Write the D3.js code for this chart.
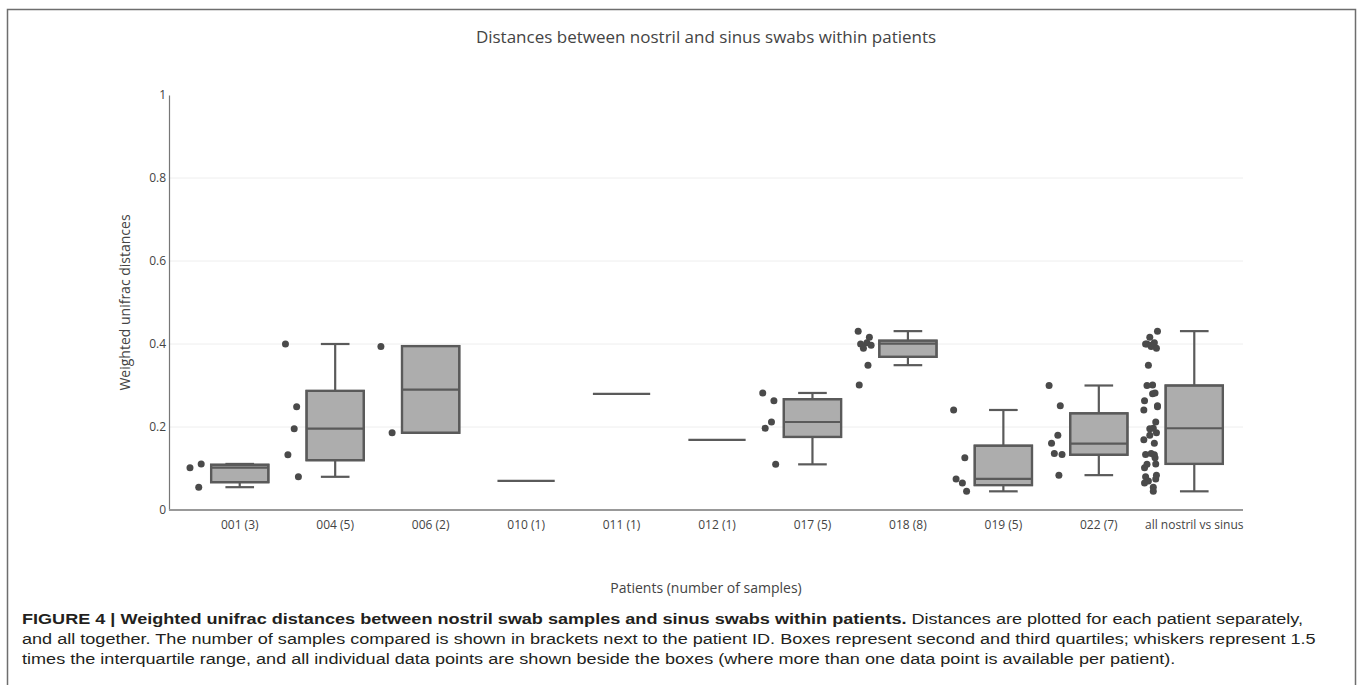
<!DOCTYPE html>
<html>
<head>
<meta charset="utf-8">
<script src="https://cdn.jsdelivr.net/npm/d3@7"></script>
<style>
  body { margin: 0; background: #fff; }
  svg { display: block; }
</style>
</head>
<body>
<svg width="1360" height="685"></svg>
<script>
// --- data ---
const categories = ["001 (3)", "004 (5)", "006 (2)", "010 (1)", "011 (1)", "012 (1)",
                    "017 (5)", "018 (8)", "019 (5)", "022 (7)", "all nostril vs sinus"];

const p001 = [0.102, 0.111, 0.055];
const p004 = [0.400, 0.249, 0.196, 0.133, 0.080];
const p006 = [0.394, 0.186];
const p010 = [0.070];
const p011 = [0.280];
const p012 = [0.169];
const p017 = [0.282, 0.263, 0.212, 0.197, 0.110];
const p018 = [0.431, 0.416, 0.403, 0.400, 0.397, 0.390, 0.349, 0.301];
const p019 = [0.241, 0.126, 0.065, 0.075, 0.045];
const p022 = [0.300, 0.251, 0.180, 0.161, 0.134, 0.136, 0.084];
const pAll = [].concat(p001, p004, p006, p010, p011, p012, p017, p018, p019, p022);

const groupPoints = [p001, p004, p006, p010, p011, p012, p017, p018, p019, p022, pAll];

// box statistics as drawn (q1, median, q3, whisker ends)
const q1      = [0.067, 0.120, 0.186, 0.070, 0.280, 0.169, 0.176, 0.369, 0.060, 0.133, 0.111];
const median  = [0.102, 0.196, 0.290, 0.070, 0.280, 0.169, 0.212, 0.401, 0.075, 0.160, 0.197];
const q3      = [0.109, 0.287, 0.395, 0.070, 0.280, 0.169, 0.267, 0.408, 0.155, 0.233, 0.300];
const whiskLo = [0.055, 0.080, 0.186, 0.070, 0.280, 0.169, 0.110, 0.349, 0.045, 0.084, 0.045];
const whiskHi = [0.111, 0.400, 0.395, 0.070, 0.280, 0.169, 0.282, 0.431, 0.241, 0.300, 0.431];

const yTicks      = [0, 0.2, 0.4, 0.6, 0.8, 1];
const yTickLabels = ["0", "0.2", "0.4", "0.6", "0.8", "1"];

const titleText  = "Distances between nostril and sinus swabs within patients";
const yTitleText = "Weighted unifrac distances";
const xTitleText = "Patients (number of samples)";

const captionBold = "FIGURE 4 | Weighted unifrac distances between nostril swab samples and sinus swabs within patients.";
const captionLines = [
  " Distances are plotted for each patient separately,",
  "and all together. The number of samples compared is shown in brackets next to the patient ID. Boxes represent second and third quartiles; whiskers represent 1.5",
  "times the interquartile range, and all individual data points are shown beside the boxes (where more than one data point is available per patient)."
];

// --- layout ---
const svg = d3.select("svg");
const axisLeft = 169, axisRight = 1243;
const plotTop = 95, plotBottom = 510;
const lineColor = "#5a5a5a";
const fillColor = "#adadad";
const dotColor  = "#4a4a4a";
const font = "'Open Sans', sans-serif";

const x = d3.scaleBand().domain(categories).range([192, 1242]).padding(0);
const y = d3.scaleLinear().domain([0, 1]).range([plotBottom, plotTop]);

const bw = x.bandwidth();
const boxW = bw * 0.6;
const ptOffset = -bw * 0.455;
const jitterW = 7;
const JITTER = [-0.9, 0.7, 0.35, -0.55, 0.95, -0.15, 0.5, -0.75, 0.05, 0.8, -0.35, 0.25, -1.0, 0.6];

// frame
svg.append("path")
  .attr("d", "M7.5,685 V9.5 H1355.5 V685")
  .attr("fill", "none")
  .attr("stroke", "#6e6e6e")
  .attr("stroke-width", 1.5);

// title
svg.append("text")
  .attr("x", (axisLeft + axisRight) / 2)
  .attr("y", 43)
  .attr("text-anchor", "middle")
  .attr("font-family", font)
  .attr("font-size", 17)
  .attr("fill", "#444")
  .text(titleText);

// gridlines
svg.append("g")
  .selectAll("line")
  .data(yTicks.filter(t => t > 0 && t < 1))
  .join("line")
  .attr("x1", axisLeft).attr("x2", axisRight)
  .attr("y1", d => y(d)).attr("y2", d => y(d))
  .attr("stroke", "#eeeeee")
  .attr("stroke-width", 1);

// y axis
const yAxis = d3.axisLeft(y)
  .tickValues(yTicks)
  .tickFormat((d, i) => yTickLabels[i])
  .tickSize(0)
  .tickPadding(3);

const gy = svg.append("g")
  .attr("transform", `translate(${axisLeft},0)`)
  .call(yAxis);
gy.select(".domain").attr("stroke", "#777").attr("stroke-width", 1.2);
gy.selectAll("text")
  .attr("font-family", font)
  .attr("font-size", 12)
  .attr("fill", "#444");

// x axis
const xAxis = d3.axisBottom(x).tickSize(0).tickPadding(10);
const gx = svg.append("g")
  .attr("transform", `translate(0,${plotBottom})`)
  .call(xAxis);
gx.select(".domain")
  .attr("d", `M${axisLeft},0H${axisRight}`)
  .attr("stroke", "#999")
  .attr("stroke-width", 2);
gx.selectAll("text")
  .attr("font-family", font)
  .attr("font-size", 12)
  .attr("fill", "#444");

// axis titles
svg.append("text")
  .attr("transform", `translate(130,${(plotTop + plotBottom) / 2}) rotate(-90)`)
  .attr("text-anchor", "middle")
  .attr("font-family", font)
  .attr("font-size", 14)
  .attr("fill", "#444")
  .text(yTitleText);

svg.append("text")
  .attr("x", (axisLeft + axisRight) / 2)
  .attr("y", 593)
  .attr("text-anchor", "middle")
  .attr("font-family", font)
  .attr("font-size", 14)
  .attr("fill", "#444")
  .text(xTitleText);

// boxes
const boxes = svg.append("g")
  .selectAll("g")
  .data(categories.map((c, i) => ({ c, i })))
  .join("g")
  .attr("transform", d => `translate(${x(d.c) + bw / 2},0)`);

boxes.each(function (d) {
  const g = d3.select(this);
  const i = d.i;
  const cap = boxW / 2;
  if (whiskHi[i] > q3[i]) {
    g.append("line").attr("x1", 0).attr("x2", 0)
      .attr("y1", y(q3[i])).attr("y2", y(whiskHi[i]));
    g.append("line").attr("x1", -cap / 2).attr("x2", cap / 2)
      .attr("y1", y(whiskHi[i])).attr("y2", y(whiskHi[i]));
  }
  if (whiskLo[i] < q1[i]) {
    g.append("line").attr("x1", 0).attr("x2", 0)
      .attr("y1", y(q1[i])).attr("y2", y(whiskLo[i]));
    g.append("line").attr("x1", -cap / 2).attr("x2", cap / 2)
      .attr("y1", y(whiskLo[i])).attr("y2", y(whiskLo[i]));
  }
  if (q3[i] > q1[i]) {
    g.append("rect")
      .attr("x", -boxW / 2).attr("width", boxW)
      .attr("y", y(q3[i])).attr("height", y(q1[i]) - y(q3[i]))
      .attr("fill", fillColor);
  }
  g.append("line").attr("x1", -boxW / 2).attr("x2", boxW / 2)
    .attr("y1", y(median[i])).attr("y2", y(median[i]));
  if (q3[i] > q1[i]) {
    g.append("rect")
      .attr("x", -boxW / 2).attr("width", boxW)
      .attr("y", y(q3[i])).attr("height", y(q1[i]) - y(q3[i]))
      .attr("fill", "none");
  }
  g.selectAll("line, rect")
    .attr("stroke", lineColor)
    .attr("stroke-width", 2.2);
});

// individual points (only where more than one sample)
boxes.filter(d => groupPoints[d.i].length > 1)
  .selectAll("circle")
  .data(d => groupPoints[d.i])
  .join("circle")
  .attr("cx", (v, j) => ptOffset + JITTER[j % JITTER.length] * jitterW)
  .attr("cy", v => y(v))
  .attr("r", 3.5)
  .attr("fill", dotColor);

// caption: glyphs stretched horizontally to the widths of the printed lines
const capFont = "'Liberation Sans', Arial, sans-serif";
const capY = [624, 644, 664];
const capX = 22;
const capTexts = [];

captionLines.forEach((line, k) => {
  const t = svg.append("text")
    .attr("x", capX)
    .attr("y", capY[k])
    .attr("font-family", capFont)
    .attr("font-size", 15.5)
    .attr("fill", "#231f20");
  if (k === 0) {
    t.append("tspan").attr("font-weight", "bold").text(captionBold);
  }
  t.append("tspan").text(line);
  capTexts.push(t);
});

// line 2 ends at x ~1317 in the print; use its stretch for all lines
const stretch = (1317 - capX) / capTexts[1].node().getComputedTextLength();
capTexts.forEach(t => {
  t.attr("transform", `translate(${capX},0) scale(${stretch},1) translate(${-capX},0)`);
});
</script>
</body>
</html>
